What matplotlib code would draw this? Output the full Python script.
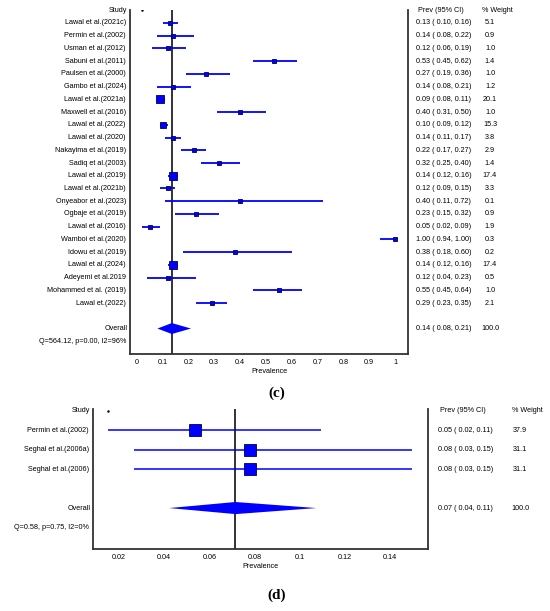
import numpy as np
import matplotlib
matplotlib.use('Agg')
from matplotlib import pyplot as plt
from matplotlib import transforms

plt.rcParams['font.family'] = ['Liberation Sans', 'DejaVu Sans']
plt.rcParams['font.size'] = 5.2

# panel (c)
studies_c = ['Lawal et al.(2021c)', 'Permin et al.(2002)', 'Usman et al.(2012)', 'Sabuni et al.(2011)',
             'Paulsen et al.(2000)', 'Gambo et al.(2024)', 'Lawal et al.(2021a)', 'Maxwell et al.(2016)',
             'Lawal et al.(2022)', 'Lawal et al.(2020)', 'Nakayima et al.(2019)', 'Sadiq et al.(2003)',
             'Lawal et al.(2019)', 'Lawal et al.(2021b)', 'Onyeabor et al.(2023)', 'Ogbaje et al.(2019)',
             'Lawal et al.(2016)', 'Wamboi et al.(2020)', 'Idowu et al.(2019)', 'Lawal et al.(2024)',
             'Adeyemi et al.2019', 'Mohammed et al. (2019)', 'Lawal et.(2022)']
prev_c = [0.13, 0.14, 0.12, 0.53, 0.27, 0.14, 0.09, 0.40, 0.10, 0.14, 0.22, 0.32,
          0.14, 0.12, 0.40, 0.23, 0.05, 1.00, 0.38, 0.14, 0.12, 0.55, 0.29]
lo_c = [0.10, 0.08, 0.06, 0.45, 0.19, 0.08, 0.08, 0.31, 0.09, 0.11, 0.17, 0.25,
        0.12, 0.09, 0.11, 0.15, 0.02, 0.94, 0.18, 0.12, 0.04, 0.45, 0.23]
hi_c = [0.16, 0.22, 0.19, 0.62, 0.36, 0.21, 0.11, 0.50, 0.12, 0.17, 0.27, 0.40,
        0.16, 0.15, 0.72, 0.32, 0.09, 1.00, 0.60, 0.16, 0.23, 0.64, 0.35]
weight_c = [5.1, 0.9, 1.0, 1.4, 1.0, 1.2, 20.1, 1.0, 15.3, 3.8, 2.9, 1.4,
            17.4, 3.3, 0.1, 0.9, 1.9, 0.3, 0.2, 17.4, 0.5, 1.0, 2.1]
overall_c = [0.136, 0.08, 0.21]
stats_c = 'Q=564.12, p=0.00, I2=96%'

# panel (d)
studies_d = ['Permin et al.(2002)', 'Seghal et al.(2006a)', 'Seghal et al.(2006)']
prev_d = [0.0538, 0.0782, 0.0782]
lo_d = [0.0151, 0.0267, 0.0267]
hi_d = [0.1096, 0.150, 0.150]
weight_d = [37.9, 31.1, 31.1]
overall_d = [0.0716, 0.0422, 0.1075]
stats_d = 'Q=0.58, p=0.75, I2=0%'

W, H = 550, 611
fig = plt.figure(figsize=(W / 100, H / 100), dpi=100)


def box(l, t, r, b):
    return [l / W, (H - b) / H, (r - l) / W, (b - t) / H]


def forest(ax, studies, prev, lo, hi, weight, overall, stats, xlim, ylim, xticks, xticklabels,
           scale, minsize, diam_h, lab_x, col1_x, col2_x, lw):
    n = len(studies)
    rows = np.arange(n)
    ov_row = n + 1
    ax.set_xlim(xlim)
    ax.set_ylim(ylim)
    ax.axvline(overall[0], color='#222222', lw=1.3, zorder=1)
    ax.hlines(rows, lo, hi, color='#0000ff', lw=lw, zorder=2)
    for i in range(n):
        side = max(minsize, scale * np.sqrt(weight[i]))
        ax.plot(prev[i], rows[i], 's', ms=side * 0.72, mfc='#0000ff', mec='#000050', mew=0.6, zorder=3)
    ax.fill([overall[1], overall[0], overall[2], overall[0]],
            [ov_row, ov_row - diam_h, ov_row, ov_row + diam_h], color='#0000ff', lw=0, zorder=3)
    # stray dot on the header row at the lowest CI bound
    ax.plot(min(lo), -1, '.', color='k', ms=1.5)

    ax.spines['top'].set_visible(False)
    for s in ['left', 'right', 'bottom']:
        ax.spines[s].set_color('#333333')
        ax.spines[s].set_linewidth(1.3)
    ax.set_yticks([])
    ax.set_xticks(xticks)
    ax.set_xticklabels(xticklabels)
    ax.tick_params(axis='x', length=0, pad=3.5)
    ax.set_xlabel('Prevalence', labelpad=1.5)

    tr = transforms.blended_transform_factory(fig.transFigure, ax.transData)
    ax.text(lab_x / W + 1 / W, -1, 'Study', transform=tr, ha='right', va='center')
    for i in range(n):
        ax.text(lab_x / W, rows[i], studies[i], transform=tr, ha='right', va='center')
        ax.text(col1_x / W, rows[i], '%.2f ( %.2f, %.2f)' % (prev[i], lo[i], hi[i]),
                transform=tr, ha='left', va='center')
        ax.text(col2_x / W, rows[i], '%.1f' % weight[i], transform=tr, ha='center', va='center')
    ax.text(lab_x / W + 2 / W, ov_row, 'Overall', transform=tr, ha='right', va='center')
    ax.text(lab_x / W, ov_row + 1, stats, transform=tr, ha='right', va='center')
    ax.text(col1_x / W + 2 / W, -1, 'Prev (95% CI)', transform=tr, ha='left', va='center')
    ax.text(col2_x / W - 8 / W, -1, '% Weight', transform=tr, ha='left', va='center')
    ax.text(col1_x / W, ov_row, '%.2f ( %.2f, %.2f)' % (overall[0], overall[1], overall[2]),
            transform=tr, ha='left', va='center')
    ax.text(col2_x / W, ov_row, '100.0', transform=tr, ha='center', va='center')


ax1 = fig.add_axes(box(130, 10, 408, 354))
ticks_c = np.round(np.arange(0, 1.01, 0.1), 1)
forest(ax1, studies_c, prev_c, lo_c, hi_c, weight_c, overall_c, stats_c,
       (-0.026, 1.05), (26.0, -1.02), ticks_c, ['0'] + ['%g' % t for t in ticks_c[1:]],
       1.78, 4.0, 0.43, 126, 416, 490, 1.3)

ax2 = fig.add_axes(box(93, 409, 428, 549))
ticks_d = [0.02, 0.04, 0.06, 0.08, 0.1, 0.12, 0.14]
forest(ax2, studies_d, prev_d, lo_d, hi_d, weight_d, overall_d, stats_d,
       (0.0084, 0.157), (6.1, -1.08), ticks_d, ['%g' % t for t in ticks_d],
       2.0, 4.0, 0.31, 89, 438, 520, 1.1)

fig.text(277 / W, 1 - 393 / H, '(c)', ha='center', va='center', family='Liberation Serif',
         weight='bold', fontsize=11)
fig.text(277 / W, 1 - 595 / H, '(d)', ha='center', va='center', family='Liberation Serif',
         weight='bold', fontsize=11)

fig.savefig('out.png', dpi=100)
